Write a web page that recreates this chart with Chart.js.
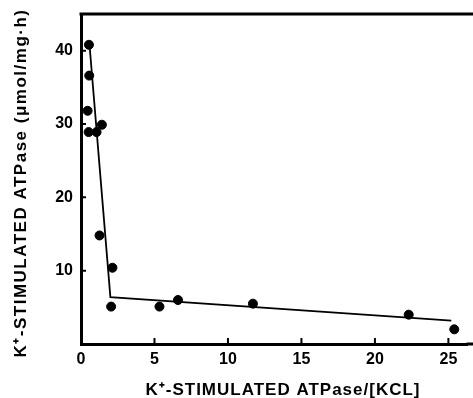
<!DOCTYPE html>
<html lang="en">
<head>
    <meta charset="UTF-8">
    <title>K+ stimulated ATPase</title>
    <script src="https://cdn.jsdelivr.net/npm/chart.js@4/dist/chart.umd.min.js"></script>
    <style>
        html, body { margin: 0; padding: 0; background: #fff; }
        #wrap { width: 473px; height: 398px; }
    </style>
</head>
<body>
    <div id="wrap"><canvas id="plot"></canvas></div>

    <script>
        // measured points (x = ATPase/[KCl], y = ATPase)
        const ptsX = [0.54, 0.56, 0.45, 0.52, 1.06, 1.42, 1.26, 2.14, 2.05, 5.34, 6.6, 11.7, 22.3, 25.4];
        const ptsY = [40.8, 36.6, 31.8, 28.9, 28.9, 29.9, 14.8, 10.4, 5.1, 5.1, 6.0, 5.5, 4.0, 2.0];

        // the two fitted lines (end points as drawn)
        const fitX = [0.6, 2.0, 25.2];
        const fitY = [40.3, 6.4, 3.2];

        const xTicks = [0, 5, 10, 15, 20, 25];
        const yTicks = [10, 20, 30, 40];

        const xTitle = 'K\u207A-STIMULATED ATPase/[KCL]';
        const yTitle = 'K\u207A-STIMULATED ATPase (\u03BCmol/mg\u00B7h)';

        const font = "'Liberation Sans', Arial, sans-serif";

        // inward tick marks, open frame lines and the two axis titles
        const frame = {
            id: 'frame',
            afterDraw(chart) {
                const ctx = chart.ctx, a = chart.chartArea;
                const xs = chart.scales.x, ys = chart.scales.y;
                ctx.save();
                ctx.strokeStyle = '#000';
                ctx.lineWidth = 3;
                ctx.beginPath();
                ctx.moveTo(a.left - 1.5, a.top);
                ctx.lineTo(chart.width, a.top);
                // axis line runs off the right edge in the original
                ctx.moveTo(a.right - 1, a.bottom);
                ctx.lineTo(chart.width, a.bottom);
                ctx.stroke();
                ctx.lineWidth = 2;
                ctx.beginPath();
                xTicks.forEach(v => {
                    const px = xs.getPixelForValue(v);
                    ctx.moveTo(px, a.bottom);
                    ctx.lineTo(px, a.bottom - 6);
                });
                yTicks.forEach(v => {
                    const py = ys.getPixelForValue(v);
                    ctx.moveTo(a.left, py);
                    ctx.lineTo(a.left + 5, py);
                });
                ctx.stroke();

                ctx.fillStyle = '#000';
                ctx.textAlign = 'center';
                ctx.textBaseline = 'middle';
                ctx.font = 'bold 17px ' + font;
                ctx.letterSpacing = '1px';
                ctx.fillText(xTitle, 283, 390);

                ctx.translate(21, 183);
                ctx.rotate(-Math.PI / 2);
                ctx.letterSpacing = '1.5px';
                ctx.fillText(yTitle, 0, 0);
                ctx.restore();
            }
        };

        new Chart(document.getElementById('plot'), {
            type: 'scatter',
            data: {
                datasets: [
                    {
                        data: ptsX.map((x, i) => ({ x: x, y: ptsY[i] })),
                        backgroundColor: '#000',
                        borderColor: '#000',
                        pointRadius: 4.5,
                        showLine: false
                    },
                    {
                        data: fitX.map((x, i) => ({ x: x, y: fitY[i] })),
                        borderColor: '#000',
                        borderWidth: 1.8,
                        pointRadius: 0,
                        showLine: true,
                        tension: 0
                    }
                ]
            },
            options: {
                responsive: true,
                maintainAspectRatio: false,
                animation: false,
                layout: { padding: { top: 14, right: 0, left: 0, bottom: 0 } },
                plugins: { legend: { display: false }, tooltip: { enabled: false } },
                scales: {
                    x: {
                        type: 'linear',
                        min: 0,
                        max: 26.3,
                        afterFit: s => { s.height = 54; s.paddingRight = 0; s.paddingLeft = 0; },
                        afterBuildTicks: s => { s.ticks = xTicks.map(v => ({ value: v })); },
                        grid: { display: false, drawTicks: false },
                        border: { display: true, color: '#000', width: 3 },
                        ticks: {
                            color: '#000',
                            padding: 6,
                            font: { family: font, size: 16, weight: 'bold' }
                        }
                    },
                    y: {
                        min: 0,
                        max: 45,
                        afterFit: s => { s.width = 81; s.paddingTop = 0; s.paddingBottom = 0; },
                        afterBuildTicks: s => { s.ticks = yTicks.map(v => ({ value: v })); },
                        grid: { display: false, drawTicks: false },
                        border: { display: true, color: '#000', width: 3 },
                        ticks: {
                            color: '#000',
                            padding: 8,
                            font: { family: font, size: 16, weight: 'bold' }
                        }
                    }
                }
            },
            plugins: [frame]
        });
    </script>
</body>
</html>
